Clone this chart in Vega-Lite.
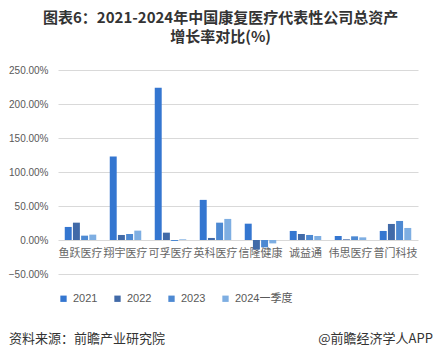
{
  "$schema": "https://vega.github.io/schema/vega-lite/v6.json",
  "padding": {"left": 8, "top": 11, "right": 2, "bottom": 0},
  "autosize": {"type": "pad"},
  "background": "white",
  "title": {
    "text": ["图表6：2021-2024年中国康复医疗代表性公司总资产", "增长率对比(%)"],
    "font": "Noto Sans CJK SC",
    "fontSize": 15,
    "fontWeight": "bold",
    "color": "#333333",
    "lineHeight": 19,
    "anchor": "middle",
    "offset": 20
  },
  "align": "none",
  "bounds": "full",
  "spacing": 28,
  "resolve": {"legend": {"color": "independent"}, "scale": {"color": "independent"}},
  "vconcat": [
    {
      "width": 360,
      "height": 204,
      "data": {
        "values": [
          {"company": "鱼跃医疗", "year": "2021", "value": 19.2},
          {"company": "鱼跃医疗", "year": "2022", "value": 25.5},
          {"company": "鱼跃医疗", "year": "2023", "value": 6.4},
          {"company": "鱼跃医疗", "year": "2024一季度", "value": 7.9},
          {"company": "翔宇医疗", "year": "2021", "value": 122.8},
          {"company": "翔宇医疗", "year": "2022", "value": 7.4},
          {"company": "翔宇医疗", "year": "2023", "value": 8.8},
          {"company": "翔宇医疗", "year": "2024一季度", "value": 13.8},
          {"company": "可孚医疗", "year": "2021", "value": 224.0},
          {"company": "可孚医疗", "year": "2022", "value": 10.8},
          {"company": "可孚医疗", "year": "2023", "value": -1.5},
          {"company": "可孚医疗", "year": "2024一季度", "value": 1.0},
          {"company": "英科医疗", "year": "2021", "value": 59.0},
          {"company": "英科医疗", "year": "2022", "value": 3.0},
          {"company": "英科医疗", "year": "2023", "value": 25.5},
          {"company": "英科医疗", "year": "2024一季度", "value": 31.0},
          {"company": "信隆健康", "year": "2021", "value": 24.0},
          {"company": "信隆健康", "year": "2022", "value": -14.0},
          {"company": "信隆健康", "year": "2023", "value": -10.8},
          {"company": "信隆健康", "year": "2024一季度", "value": -5.0},
          {"company": "诚益通", "year": "2021", "value": 13.3},
          {"company": "诚益通", "year": "2022", "value": 8.8},
          {"company": "诚益通", "year": "2023", "value": 7.4},
          {"company": "诚益通", "year": "2024一季度", "value": 5.9},
          {"company": "伟思医疗", "year": "2021", "value": 5.9},
          {"company": "伟思医疗", "year": "2022", "value": 1.0},
          {"company": "伟思医疗", "year": "2023", "value": 5.4},
          {"company": "伟思医疗", "year": "2024一季度", "value": 3.9},
          {"company": "普门科技", "year": "2021", "value": 13.3},
          {"company": "普门科技", "year": "2022", "value": 23.6},
          {"company": "普门科技", "year": "2023", "value": 28.0},
          {"company": "普门科技", "year": "2024一季度", "value": 17.7}
        ]
      },
      "mark": {"type": "bar"},
      "encoding": {
        "x": {
          "field": "company",
          "type": "nominal",
          "sort": null,
          "scale": {"paddingInner": 0.3, "paddingOuter": 0.15},
          "axis": {
            "title": null,
            "orient": "bottom",
            "offset": -34,
            "domain": false,
            "ticks": false,
            "grid": false,
            "labelAngle": 0,
            "labelFont": "Noto Sans CJK SC",
            "labelFontSize": 11,
            "labelColor": "#666666",
            "labelPadding": 7,
            "labelOverlap": false
          }
        },
        "xOffset": {"field": "year", "type": "nominal", "sort": null, "scale": {"paddingInner": 0.15}},
        "y": {
          "field": "value",
          "type": "quantitative",
          "scale": {"domain": [-50, 250], "nice": false},
          "axis": {
            "title": null,
            "values": [-50, 0, 50, 100, 150, 200, 250],
            "labelExpr": "format(datum.value, '.2f') + '%'",
            "domain": false,
            "ticks": false,
            "gridColor": "#d9d9d9",
            "labelFont": "Liberation Sans",
            "labelFontSize": 10,
            "labelColor": "#595959",
            "labelPadding": 10,
            "minExtent": 49,
            "maxExtent": 49
          }
        },
        "color": {
          "field": "year",
          "type": "nominal",
          "sort": null,
          "scale": {
            "domain": ["2021", "2022", "2023", "2024一季度"],
            "range": ["#3476d0", "#416aa8", "#4d89d2", "#7eaee2"]
          },
          "legend": {
            "title": null,
            "orient": "bottom",
            "direction": "horizontal",
            "symbolType": "square",
            "symbolSize": 40,
            "symbolStrokeWidth": 0,
            "labelFont": "Liberation Sans, Noto Sans CJK SC",
            "labelFontSize": 11,
            "labelColor": "#595959",
            "columnPadding": 14,
            "offset": 19
          }
        }
      }
    },
    {
      "width": 360,
      "height": 14,
      "data": {
        "values": [
          {"text": "资料来源：前瞻产业研究院", "pos": 0, "side": "left"},
          {"text": "@前瞻经济学人APP", "pos": 1, "side": "right"}
        ]
      },
      "layer": [
        {
          "transform": [{"filter": "datum.side === 'left'"}],
          "mark": {"type": "text", "align": "left", "baseline": "middle", "font": "Noto Sans CJK SC", "fontSize": 13, "color": "#333333"},
          "encoding": {
            "x": {"field": "pos", "type": "quantitative", "scale": {"domain": [0.1156, 0.9647]}, "axis": null},
            "text": {"field": "text"}
          }
        },
        {
          "transform": [{"filter": "datum.side === 'right'"}],
          "mark": {"type": "text", "align": "right", "baseline": "middle", "font": "Noto Sans CJK SC", "fontSize": 13, "color": "#333333"},
          "encoding": {
            "x": {"field": "pos", "type": "quantitative", "scale": {"domain": [0.1156, 0.9647]}, "axis": null},
            "text": {"field": "text"}
          }
        }
      ]
    }
  ],
  "config": {"view": {"stroke": null}}
}
